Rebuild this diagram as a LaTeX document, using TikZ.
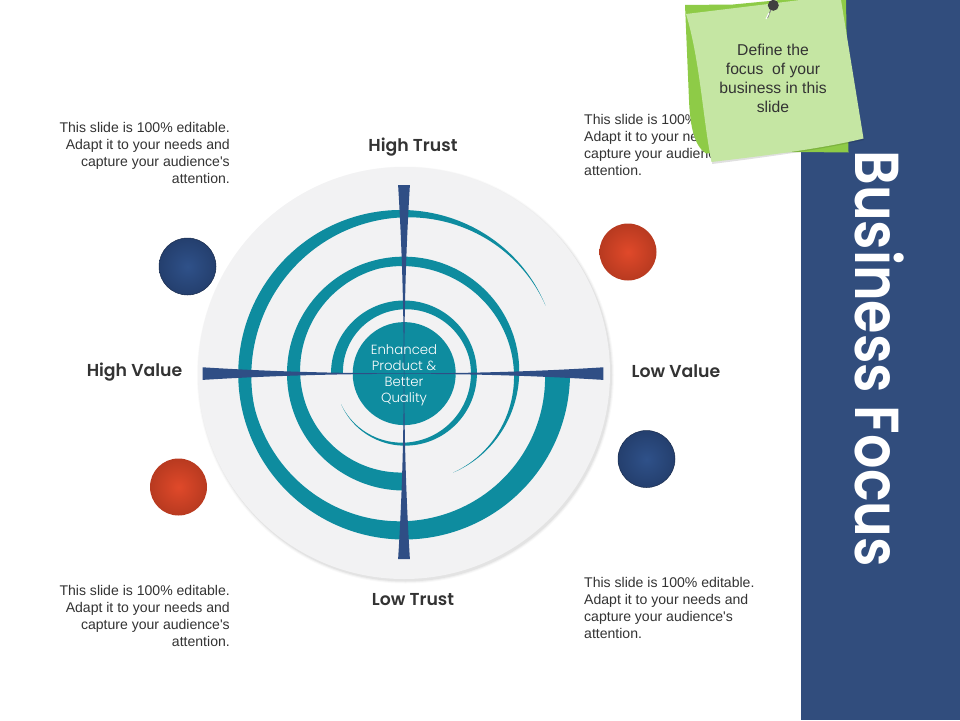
\documentclass[tikz,border=0pt]{standalone}
\usepackage{graphicx}
\usepackage{fontspec}
\newfontfamily\bodyf{Liberation Sans}
\newfontfamily\geo{Poppins SemiBold}
\newfontfamily\geolight{Poppins Light}
\definecolor{teal1}{HTML}{0E8C9F}
\definecolor{navy1}{HTML}{2F4E85}
\definecolor{side}{HTML}{314D7D}
\definecolor{disk}{HTML}{F2F2F3}
\definecolor{note}{HTML}{C5E6A3}
\definecolor{noteback}{HTML}{8ECB47}
\definecolor{bodytxt}{HTML}{333333}
\definecolor{redc}{HTML}{E0492A}
\definecolor{rede}{HTML}{B83A20}
\definecolor{navyc}{HTML}{2F5189}
\definecolor{navye}{HTML}{243F6E}
\tikzset{
 x=1pt,y=-1pt,
 body/.style={font=\bodyf\fontsize{14.05}{16.7}\selectfont,text=bodytxt,inner sep=0pt,align=#1},
 axislabel/.style={font=\geo\fontsize{17.3}{20}\selectfont,text=black!80,inner sep=0pt},
 ringfill/.style={fill=teal1,draw=none},
 barfill/.style={fill=navy1,draw=none},
 navyball/.style={circle,minimum size=57pt,inner sep=0pt,draw=navye!70!black,line width=.5pt,inner color=navyc,outer color=navye},
 redball/.style={circle,minimum size=57pt,inner sep=0pt,draw=none,inner color=redc,outer color=rede},
}
% ring: start angle, span, outer radius, end width, bulge, tail inset
\newcommand{\spiralring}[6]{%
 \fill[ringfill] plot[domain=0:1,samples=120,smooth] ({404+(#3-#6*(1-\x)^6)*cos(#1+#2*\x)},{373.5-(#3-#6*(1-\x)^6)*sin(#1+#2*\x)})
 -- plot[domain=1:0,samples=120,smooth] ({404+(#3-#6*(1-\x)^6-#4*\x-#5*\x*max(0,sin(360*\x)))*cos(#1+#2*\x)},{373.5-(#3-#6*(1-\x)^6-#4*\x-#5*\x*max(0,sin(360*\x)))*sin(#1+#2*\x)}) -- cycle;}
% bar arm: arm direction (#1,#2), normal (#3,#4), length #5, end half width #6
\newcommand{\barm}[6]{%
 \fill[barfill] ({404+.25*#3},{373.6+.25*#4})
 .. controls ({404+.333*#5*#1+.25*#3},{373.6+.333*#5*#2+.25*#4}) and ({404+.667*#5*#1+.34*#6*#3},{373.6+.667*#5*#2+.34*#6*#4}) .. ({404+#5*#1+#6*#3},{373.6+#5*#2+#6*#4})
 -- ({404+#5*#1-#6*#3},{373.6+#5*#2-#6*#4})
 .. controls ({404+.667*#5*#1-.34*#6*#3},{373.6+.667*#5*#2-.34*#6*#4}) and ({404+.333*#5*#1-.25*#3},{373.6+.333*#5*#2-.25*#4}) .. ({404-.25*#3},{373.6-.25*#4}) -- cycle;}
\begin{document}
\begin{tikzpicture}
\useasboundingbox (0,0) rectangle (960,720);
\fill[white] (0,0) rectangle (960,720);
\fill[side] (801,0) rectangle (960,720);
\node[rotate=-90,text=white,inner sep=0pt,font=\geo\fontsize{54}{58}\selectfont] (title) at (879.5,358.5) {\scalebox{1}[1.15]{Business Focus}};
% disk shadow
\foreach \r/\o in {208.5/.025,207.5/.035,206.5/.05}{\fill[black,opacity=\o] (405.5,375) circle (\r);}
\node[circle,fill=disk,minimum size=412pt,inner sep=0pt] (disk) at (404,373) {};
\spiralring{25.6}{334.4}{166}{25}{14}{9}
\spiralring{-63.7}{333.7}{117}{18}{10}{6.4}
\spiralring{206}{334}{73}{12}{4}{3}
\node[circle,fill=teal1,minimum size=103pt,inner sep=0pt] (core) at (404.2,373.6) {};
\barm{0}{-1}{1}{0}{188.5}{5.9}
\barm{0}{1}{1}{0}{185.5}{5.9}
\barm{-1}{0}{0}{1}{201.3}{6.3}
\barm{1}{0}{0}{1}{199.3}{6.3}
\node[text=white,align=center,inner sep=0pt,font=\geolight\fontsize{13.3}{16}\selectfont] (coretxt) at (404,375) {Enhanced\\Product \&\\Better\\Quality};
\node[axislabel] (ht) at (413,147) {High Trust};
\node[axislabel] (lt) at (413,600) {Low Trust};
\node[axislabel] (hv) at (134.5,372) {High Value};
\node[axislabel] (lv) at (676,371.5) {Low Value};
\node[navyball] (b1) at (187.5,266.5) {};
\node[redball] (b2) at (628,252) {};
\node[redball] (b3) at (178.5,487) {};
\node[navyball] (b4) at (646.5,459) {};
\node[body=right,anchor=east] (t1) at (230,153) {This slide is 100\% editable.\\Adapt it to your needs and\\capture your audience's\\attention.};
\node[body=right,anchor=east] (t3) at (230,616) {This slide is 100\% editable.\\Adapt it to your needs and\\capture your audience's\\attention.};
\node[body=left,anchor=west] (t2) at (584,145) {This slide is 100\% editable.\\Adapt it to your needs and\\capture your audience's\\attention.};
\node[body=left,anchor=west] (t4) at (584,608) {This slide is 100\% editable.\\Adapt it to your needs and\\capture your audience's\\attention.};
% sticky note
\fill[noteback] (685,5) -- (733,4.5) -- (780,0) -- (846,0) -- (848.5,152.5) -- (800,152) -- (706,153.5) .. controls (694,146) and (690,125) .. (689,100) -- cycle;
\fill[black,opacity=.12] (712,164) .. controls (760,158) and (820,150) .. (864,140) -- (864,137) -- (712,160) -- cycle;
\fill[note] (686,14) -- (760,5) -- (800,0) -- (841,0) -- (863.5,138.5) .. controls (820,149) and (770,155) .. (711.5,162) .. controls (703,120) and (700,60) .. cycle;
\draw[gray,line width=1pt] (767.5,18) -- (772,7);
\draw[white,line width=1pt] (766,19) -- (769,13);
\fill[black!75] (773.3,5.3) circle (5.5);
\node[align=center,inner sep=0pt,text=black!80,font=\bodyf\fontsize{15.7}{19}\selectfont] (notetxt) at (773,78.5) {Define the\\focus\ \ of your\\business in this\\slide};
\end{tikzpicture}
\end{document}
